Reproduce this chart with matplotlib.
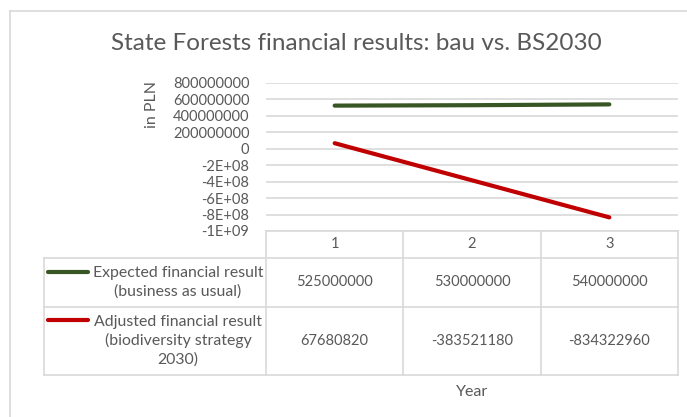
import matplotlib
matplotlib.use("Agg")
import matplotlib.pyplot as plt
from matplotlib.lines import Line2D

# ---------------- data ----------------
years = [1, 2, 3]
bau_values = [525000000, 530000000, 540000000]
bs2030_values = [67680820, -383521180, -834322960]
series_names = ["Expected financial result\n(business as usual)",
                "Adjusted financial result\n(biodiversity strategy\n2030)"]
yticks = [800000000, 600000000, 400000000, 200000000, 0,
          -200000000, -400000000, -600000000, -800000000, -1000000000]
ytick_labels = ["800000000", "600000000", "400000000", "200000000", "0",
                "-2E+08", "-4E+08", "-6E+08", "-8E+08", "-1E+09"]
title = "State Forests financial results: bau vs. BS2030"
ylabel = "in PLN"
xlabel = "Year"

# ---------------- style ----------------
W, H = 687, 417
GREEN = "#375623"
RED = "#c00000"
TXT = "#595959"
GRID = "#d9d9d9"
FONT = ["Lato", "DejaVu Sans"]
plt.rcParams["font.family"] = FONT

fig = plt.figure(figsize=(W / 100, H / 100), dpi=100)


def fx(x):
    return x / W


def fy(y):
    return 1 - y / H


# plot area
px_left, px_right, px_top, px_bottom = 266, 678, 83, 231
ax = fig.add_axes([fx(px_left), fy(px_bottom), fx(px_right - px_left), (px_bottom - px_top) / H])
ax.plot(years, bau_values, color=GREEN, lw=3, solid_capstyle="round", zorder=3)
ax.plot(years, bs2030_values, color=RED, lw=3, solid_capstyle="round", zorder=3)
ax.set_xlim(0.5, 3.5)
ax.set_ylim(-1e9, 8e8)
ax.set_yticks(yticks)
ax.set_yticklabels(ytick_labels)
ax.set_xticks([])
ax.tick_params(axis="y", length=0, pad=12, labelsize=10.5, labelcolor=TXT)
ax.grid(axis="y", color=GRID, lw=1.2)
ax.set_axisbelow(True)
for s in ax.spines.values():
    s.set_visible(False)
ax.patch.set_alpha(0)

# axis titles
fig.text(fx(152), fy(105), ylabel, rotation=90, ha="center", va="center",
         fontsize=11.5, color=TXT)
fig.text(fx(472), fy(392), xlabel, ha="center", va="center", fontsize=11.5, color=TXT)
fig.text(fx(356), fy(44), title, ha="center", va="center", fontsize=17.5, color=TXT)

# chart border (top and left visible)
fig.add_artist(Line2D([fx(10), fx(10)], [fy(11), 0], transform=fig.transFigure, color=GRID, lw=1.2))
fig.add_artist(Line2D([fx(10), 1], [fy(11), fy(11)], transform=fig.transFigure, color=GRID, lw=1.2))

# ---------------- data table ----------------
fig.canvas.draw()
to_fig = fig.transFigure.inverted()


def cat_to_px(c):
    disp = ax.transData.transform((c, 0))
    return to_fig.transform(disp)[0] * W


col_edges = [cat_to_px(c - 0.5) for c in years] + [cat_to_px(years[-1] + 0.5)]
col_centers = [cat_to_px(c) for c in years]
tbl_left = 44
row_edges = [231, 257.7, 306.7, 375]


def hline(y, x0, x1):
    fig.add_artist(Line2D([fx(x0), fx(x1)], [fy(y), fy(y)], transform=fig.transFigure, color=GRID, lw=1.2))


def vline(x, y0, y1):
    fig.add_artist(Line2D([fx(x), fx(x)], [fy(y0), fy(y1)], transform=fig.transFigure, color=GRID, lw=1.2))


hline(row_edges[0], col_edges[0], col_edges[-1])
for y in row_edges[1:]:
    hline(y, tbl_left, col_edges[-1])
vline(tbl_left, row_edges[1], row_edges[-1])
for x in col_edges:
    vline(x, row_edges[0], row_edges[-1])

# header
for c, xc in zip(years, col_centers):
    fig.text(fx(xc), fy((row_edges[0] + row_edges[1]) / 2), str(c), ha="center", va="center",
             fontsize=10.5, color=TXT)

# rows
key_x0, key_x1 = 48, 88
line_h = 21
for i, (name, vals, color) in enumerate(zip(series_names, [bau_values, bs2030_values], [GREEN, RED])):
    y0, y1 = row_edges[i + 1], row_edges[i + 2]
    yc = (y0 + y1) / 2
    nlines = name.count("\n") + 1
    first_y = yc - (nlines - 1) * line_h / 2
    fig.add_artist(Line2D([fx(key_x0), fx(key_x1)], [fy(first_y), fy(first_y)],
                          transform=fig.transFigure, color=color, lw=3, solid_capstyle="round"))
    fig.text(fx((key_x1 + col_edges[0]) / 2 + 1), fy(yc), name, ha="center", va="center",
             multialignment="center", fontsize=11.4, color=TXT, linespacing=1.38)
    for v, xc in zip(vals, col_centers):
        fig.text(fx(xc), fy(yc), str(v), ha="center", va="center", fontsize=10.5, color=TXT)

fig.savefig("out.png", dpi=100, facecolor="white")
